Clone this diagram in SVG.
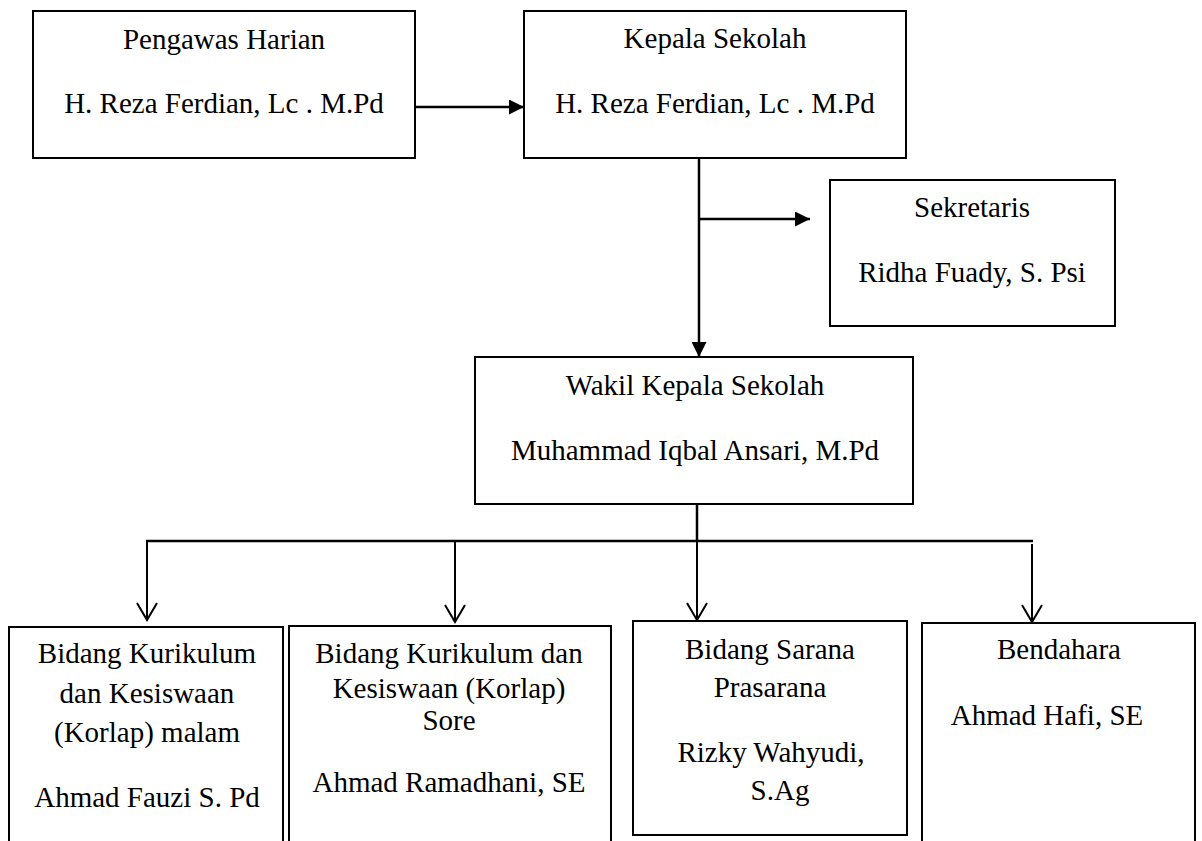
<svg xmlns="http://www.w3.org/2000/svg" width="1202" height="841" viewBox="0 0 1202 841">
<style>
.box{fill:#fff;stroke:#000;stroke-width:2}
.t{font-family:"Liberation Serif","Times New Roman",serif;font-size:29px;fill:#000;text-anchor:middle}
.c{fill:none;stroke:#000;stroke-width:2.5}
.o{fill:none;stroke:#000;stroke-width:2}
</style>
<defs>
<marker id="fa" markerUnits="userSpaceOnUse" viewBox="0 0 15 15" refX="15" refY="7.5" markerWidth="15" markerHeight="15" orient="auto">
<path d="M0,0 L15,7.5 L0,15 z" fill="#000"/>
</marker>
<marker id="oa" markerUnits="userSpaceOnUse" viewBox="-2 -2 22 24" refX="17" refY="10" markerWidth="22" markerHeight="24" orient="auto">
<path d="M0,0 L17,10 L0,20" fill="none" stroke="#000" stroke-width="2"/>
</marker>
</defs>
<rect width="1202" height="841" fill="#fff"/>
<g id="connectors">
<path class="c" d="M415,107 H524" marker-end="url(#fa)"/>
<path class="c" d="M699,158 V357" marker-end="url(#fa)"/>
<path class="c" d="M699,219 H810" marker-end="url(#fa)"/>
<path class="c" d="M697,504 V541"/>
<path class="c" d="M146,541 H1033"/>
<path class="o" d="M147,541 V620" marker-end="url(#oa)"/>
<path class="o" d="M455,541 V622" marker-end="url(#oa)"/>
<path class="o" d="M697,541 V620" marker-end="url(#oa)"/>
<path class="o" d="M1032,544 V622" marker-end="url(#oa)"/>
</g>
<g id="pengawas">
<rect class="box" x="33" y="11" width="382" height="147"/>
<text class="t" x="224" y="49">Pengawas Harian</text>
<text class="t" x="224" y="113">H. Reza Ferdian, Lc . M.Pd</text>
</g>
<g id="kepala">
<rect class="box" x="524" y="11" width="382" height="147"/>
<text class="t" x="715" y="48">Kepala Sekolah</text>
<text class="t" x="715" y="113">H. Reza Ferdian, Lc . M.Pd</text>
</g>
<g id="sekretaris">
<rect class="box" x="830" y="180" width="285" height="146"/>
<text class="t" x="972" y="217">Sekretaris</text>
<text class="t" x="972" y="282">Ridha Fuady, S. Psi</text>
</g>
<g id="wakil">
<rect class="box" x="475" y="357" width="438" height="147"/>
<text class="t" x="695" y="395">Wakil Kepala Sekolah</text>
<text class="t" x="695" y="460">Muhammad Iqbal Ansari, M.Pd</text>
</g>
<g id="kurikulum-malam">
<rect class="box" x="9" y="627" width="274" height="240"/>
<text class="t" x="147" y="663">Bidang Kurikulum</text>
<text class="t" x="147" y="703">dan Kesiswaan</text>
<text class="t" x="147" y="742">(Korlap) malam</text>
<text class="t" x="147" y="807">Ahmad Fauzi S. Pd</text>
</g>
<g id="kurikulum-sore">
<rect class="box" x="289" y="626" width="322" height="240"/>
<text class="t" x="449" y="663">Bidang Kurikulum dan</text>
<text class="t" x="449" y="698">Kesiswaan (Korlap)</text>
<text class="t" x="449" y="730">Sore</text>
<text class="t" x="449" y="792">Ahmad Ramadhani, SE</text>
</g>
<g id="sarana">
<rect class="box" x="633" y="621" width="274" height="214"/>
<text class="t" x="770" y="659">Bidang Sarana</text>
<text class="t" x="770" y="697">Prasarana</text>
<text class="t" x="771" y="762">Rizky Wahyudi,</text>
<text class="t" x="780" y="800">S.Ag</text>
</g>
<g id="bendahara">
<rect class="box" x="922" y="623" width="273" height="240"/>
<text class="t" x="1059" y="659">Bendahara</text>
<text class="t" x="1047" y="725">Ahmad Hafi, SE</text>
</g>
</svg>
